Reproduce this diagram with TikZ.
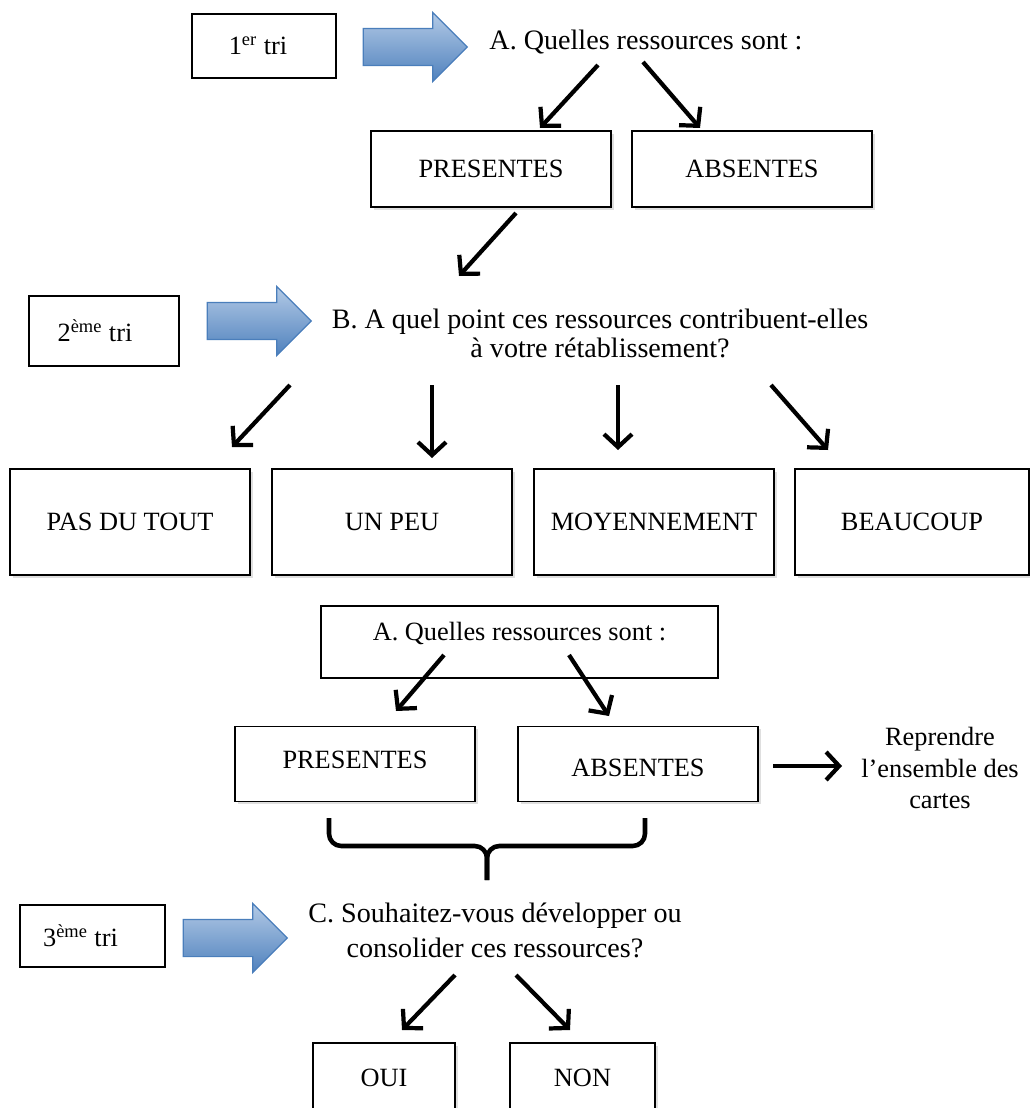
\documentclass[tikz,border=0pt]{standalone}
\usepackage{fontspec}
\setmainfont{Liberation Serif}
\usetikzlibrary{arrows.meta,positioning,shapes.arrows,shadows}
\definecolor{pushline}{HTML}{4A7EBB}
\definecolor{pushtop}{HTML}{B3CAE6}
\definecolor{pushbot}{HTML}{4F81BD}

\begin{document}
\begin{tikzpicture}[
    x=0.02cm, y=-0.02cm,
    font=\fontsize{15}{17}\selectfont,
    choice/.style={draw, line width=0.9pt, fill=white, minimum width=4.8cm, minimum height=1.52cm,
        drop shadow={opacity=0.25, shadow xshift=1.5pt, shadow yshift=-1.5pt}},
    tri/.style={draw, line width=0.9pt, fill=white},
    question/.style={align=center, font=\fontsize{16}{17}\selectfont},
    push/.style={single arrow, draw=pushline, line width=0.7pt, top color=pushtop, bottom color=pushbot,
        minimum height=2.08cm, single arrow head extend=0.32cm, inner sep=0.36cm},
    arrow/.style={-{Straight Barb[length=2.6mm,width=5.6mm]}, line width=2.4pt},
    bracket/.style={line width=2.6pt, rounded corners=7pt}
]
\useasboundingbox (0,0) rectangle (1030,1108);
% 1er tri
\node[tri, minimum width=2.88cm, minimum height=1.28cm] (t1) at (264,46) {1\textsuperscript{er} tri\kern0.24cm};
\node[push] (f1) at (406,47) {};
\node[question] (qa) at (646,42) {A. Quelles ressources sont :};
\node[choice] (pres) at (491,169) {PRESENTES};
\node[choice] (abs) at (752,169) {ABSENTES};
\coordinate (qa1) at (598,65);
\coordinate (qa2) at (643,62);
\coordinate (pr1) at (540,128);
\coordinate (ab1) at (700,128);
\draw[arrow] (qa1) -- (pr1);
\draw[arrow] (qa2) -- (ab1);
\coordinate (prs) at (516,213);
\coordinate (qbn) at (459,276);
\draw[arrow] (prs) -- (qbn);
% 2eme tri
\node[tri, minimum width=3cm, minimum height=1.4cm] (t2) at (104,331) {2\textsuperscript{ème} tri\kern0.36cm};
\node[push] (f2) at (250,321) {};
\node[question] (qb) at (600,333) {B. A quel point ces ressources contribuent-elles\\[-0.5pt] à votre rétablissement?};
\node[choice, minimum height=2.12cm] (pdt) at (130,522) {PAS DU TOUT};
\node[choice, minimum height=2.12cm] (peu) at (392,522) {UN PEU};
\node[choice, minimum height=2.12cm] (moy) at (654,522) {MOYENNEMENT};
\node[choice, minimum height=2.12cm, minimum width=4.68cm] (bcp) at (912,522) {BEAUCOUP};
\coordinate (qb1) at (290,385);
\coordinate (qb2) at (432,385);
\coordinate (qb3) at (618,385);
\coordinate (qb4) at (771,385);
\coordinate (pdtn) at (232,447);
\coordinate (peun) at (432,458);
\coordinate (moyn) at (618,450);
\coordinate (bcpn) at (828,450);
\draw[arrow] (qb1) -- (pdtn);
\draw[arrow] (qb2) -- (peun);
\draw[arrow] (qb3) -- (moyn);
\draw[arrow] (qb4) -- (bcpn);
% retour sur A
\node[tri, anchor=north, minimum width=7.94cm, inner sep=0pt, text height=0.7cm, text depth=0.74cm] (qa2box) at (519.5,605) {A. Quelles ressources sont :};
\node[choice, minimum height=1.5cm, text depth=0.16cm] (pres2) at (355,764) {PRESENTES};
\node[choice, minimum height=1.5cm, text height=0.5cm] (abs2) at (638,764) {ABSENTES};
\node[align=center] (rep) at (940,768) {Reprendre\\[1.2pt] l’ensemble des\\[1.2pt] cartes};
\coordinate (qc1) at (444,655);
\coordinate (qc2) at (569,655);
\coordinate (pr2) at (396,711);
\coordinate (ab2) at (609,716);
\draw[arrow] (qc1) -- (pr2);
\draw[arrow] (qc2) -- (ab2);
\coordinate (abe) at (773,766);
\coordinate (repw) at (842,766);
\draw[arrow] (abe) -- (repw);
% accolade
\coordinate (bl) at (329,818);
\coordinate (br) at (645,818);
\coordinate (bm) at (487,846);
\coordinate (btip) at (487,880);
\draw[bracket] (bl) |- (bm) -- (btip);
\draw[bracket] (br) |- (bm) -- (btip);
% 3eme tri
\node[tri, minimum width=2.9cm, minimum height=1.24cm] (t3) at (92.5,936) {3\textsuperscript{ème} tri\kern0.48cm};
\node[push] (f3) at (226,938) {};
\node[question] (qc) at (495,930) {C. Souhaitez-vous développer ou\\[3pt] consolider ces ressources?};
\node[choice, minimum width=2.84cm, minimum height=1.4cm] (oui) at (384,1078) {OUI};
\node[choice, minimum width=2.9cm, minimum height=1.4cm] (non) at (582.5,1078) {NON};
\coordinate (qd1) at (455,975);
\coordinate (qd2) at (516,975);
\coordinate (ouin) at (402,1030);
\coordinate (nonn) at (570,1030);
\draw[arrow] (qd1) -- (ouin);
\draw[arrow] (qd2) -- (nonn);
\end{tikzpicture}
\end{document}
